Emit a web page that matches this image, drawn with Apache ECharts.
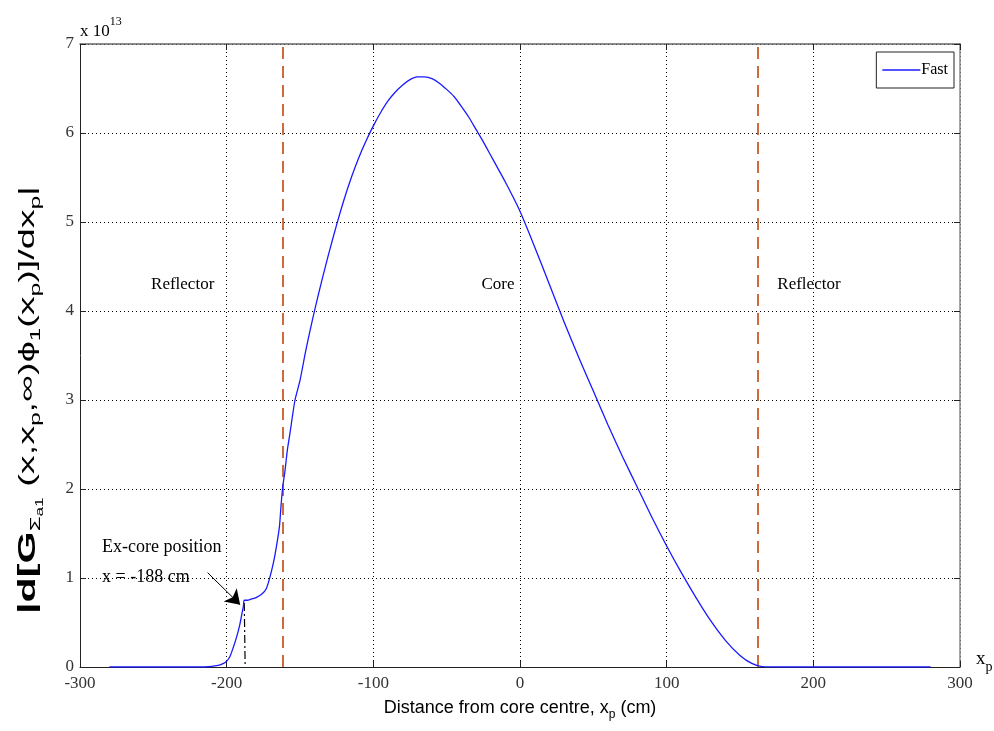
<!DOCTYPE html>
<html>
<head>
<meta charset="utf-8">
<script src="https://cdn.jsdelivr.net/npm/echarts@6/dist/echarts.min.js"></script>
<style>
html,body{margin:0;padding:0;background:#fff}
#chart{width:994px;height:731px}
</style>
</head>
<body>
<div id="chart"></div>
<script>
// Axis ticks
const xTicks = [-300, -200, -100, 0, 100, 200, 300];
const yTicks = [0, 1, 2, 3, 4, 5, 6, 7];

// Fast-group gradient |d[G(x,xp,w) phi1(xp)]/dxp| in units of 1e13, versus xp (cm)
const positionCm = [
  -280, -260, -240, -220, -212, -208, -204, -201, -198, -195.5, -193, -191, -189.6, -188.6, -188,
  -186, -183, -180, -176, -173, -170.5, -168, -166, -164, -163, -161.8, -160.2, -158.6, -156.8,
  -153.4, -150, -146, -143, -140, -135, -130, -125, -120, -115, -110, -105, -100, -95, -90, -85,
  -80, -75, -70, -65, -60, -55, -50, -45, -40, -35, -30, -25, -20, -15, -10, -5, 0, 10, 20, 30,
  40, 50, 60, 70, 80, 90, 100, 110, 120, 130, 140, 150, 158, 165, 180, 200, 220, 240, 260, 280
];
const fastGradient = [
  0, 0, 0, 0, 0.003, 0.012, 0.028, 0.05, 0.11, 0.22, 0.35, 0.48, 0.6, 0.68, 0.75,
  0.75, 0.765, 0.78, 0.82, 0.88, 1.01, 1.18, 1.36, 1.58, 1.8, 2.02, 2.21, 2.44, 2.63,
  3.0, 3.22, 3.56, 3.79, 4.01, 4.35, 4.67, 4.97, 5.25, 5.5, 5.72, 5.91, 6.08, 6.23, 6.36, 6.46,
  6.54, 6.6, 6.63, 6.63, 6.61, 6.56, 6.49, 6.41, 6.3, 6.18, 6.04, 5.9, 5.75, 5.6, 5.45, 5.29, 5.12, 4.72, 4.3, 3.88,
  3.48, 3.1, 2.72, 2.36, 2.02, 1.68, 1.36, 1.06, 0.78, 0.52, 0.3, 0.13, 0.04, 0.005, 0, 0, 0, 0, 0, 0
];

// Core / reflector interfaces (cm) and the ex-core detector position
const regionBoundaries = [-162, 162];
const exCorePosition = -188;

const regionLabels = [
  { text: 'Reflector', x: -230, y: 4.3 },
  { text: 'Core', x: -15, y: 4.3 },
  { text: 'Reflector', x: 197, y: 4.3 }
];

const serif = '"Liberation Serif", "Times New Roman", serif';
const sans = '"Liberation Sans", Arial, Helvetica, sans-serif';

const chart = echarts.init(document.getElementById('chart'));

const curve = positionCm.map((x, i) => [x, fastGradient[i]]);

const gridLine = { show: true, lineStyle: { color: '#000', width: 1, type: [1, 3] } };

chart.setOption({
  animation: false,
  backgroundColor: '#fff',
  grid: { left: 80, right: 34, top: 44, bottom: 64 },
  legend: {
    right: 40, top: 52,
    data: [{ name: 'Fast', icon: 'rect' }],
    orient: 'vertical',
    borderColor: '#222', borderWidth: 1,
    padding: [10, 6, 10, 6],
    itemWidth: 38, itemHeight: 1.5, itemGap: 4,
    textStyle: { fontFamily: serif, fontSize: 16, color: '#000', padding: [0, 0, 0, -4] }
  },
  xAxis: [{
    type: 'value', min: -300, max: 300, interval: 100,
    axisLine: { show: true, onZero: false, lineStyle: { color: '#222', width: 1 } },
    axisTick: { show: true, inside: true, length: 6, lineStyle: { color: '#222' } },
    axisLabel: { fontFamily: serif, fontSize: 17, color: '#333', margin: 8 },
    splitLine: gridLine
  }, {
    type: 'value', min: -300, max: 300, interval: 100, position: 'top',
    axisLine: { show: true, onZero: false, lineStyle: { color: '#666', width: 1.5 } },
    axisTick: { show: true, inside: true, length: 6, lineStyle: { color: '#222' } },
    axisLabel: { show: false }, splitLine: { show: false }
  }],
  yAxis: [{
    type: 'value', min: 0, max: 7, interval: 1,
    axisLine: { show: true, onZero: false, lineStyle: { color: '#222', width: 1 } },
    axisTick: { show: true, inside: true, length: 6, lineStyle: { color: '#222' } },
    axisLabel: { fontFamily: serif, fontSize: 17, color: '#333', margin: 6 },
    splitLine: gridLine
  }, {
    type: 'value', min: 0, max: 7, interval: 1, position: 'right',
    axisLine: { show: true, onZero: false, lineStyle: { color: '#888', width: 1.5 } },
    axisTick: { show: true, inside: true, length: 6, lineStyle: { color: '#222' } },
    axisLabel: { show: false }, splitLine: { show: false }
  }],
  series: [{
    name: 'Fast', type: 'line', data: curve, symbol: 'none', smooth: 0.25,
    lineStyle: { color: '#1a1aff', width: 1.3 }, itemStyle: { color: '#1a1aff' },
    z: 5,
    markLine: {
      silent: true, symbol: 'none', label: { show: false },
      lineStyle: { color: '#cd6b3d', width: 2, type: [12, 7] },
      data: regionBoundaries.map(v => ({ xAxis: v }))
    }
  }, {
    // dash-dot drop line under the ex-core position
    name: 'exCoreDrop', type: 'line', symbol: 'none',
    data: [[exCorePosition, 0.72], [exCorePosition + 0.6, 0]],
    lineStyle: { color: '#000', width: 1.2, type: [8, 3, 2, 3] }, z: 4
  }, {
    name: 'exCoreArrow', type: 'lines', coordinateSystem: 'cartesian2d',
    symbol: ['none', 'arrow'], symbolSize: [0, 14],
    lineStyle: { color: '#000', width: 1, opacity: 1 },
    data: [{ coords: [[-213, 1.06], [-190.8, 0.7]] }], z: 6
  }]
});

// Text placed in data coordinates
function px(x, y) { return chart.convertToPixel({ gridIndex: 0 }, [x, y]); }

const graphics = [];
regionLabels.forEach(r => {
  const p = px(r.x, r.y);
  graphics.push({ type: 'text', x: p[0], y: p[1],
    style: { text: r.text, font: '17px ' + serif, fill: '#000', textAlign: 'center', textVerticalAlign: 'middle' } });
});
const a1 = px(-285, 1.34), a2 = px(-285, 1.01);
graphics.push({ type: 'text', x: a1[0], y: a1[1],
  style: { text: 'Ex-core position', font: '18px ' + serif, fill: '#000', textAlign: 'left', textVerticalAlign: 'middle' } });
graphics.push({ type: 'text', x: a2[0], y: a2[1],
  style: { text: 'x = -188 cm', font: '18px ' + serif, fill: '#000', textAlign: 'left', textVerticalAlign: 'middle' } });

// Exponent above the y axis
const corner = px(-300, 7);
graphics.push({ type: 'text', x: corner[0], y: corner[1] - 4,
  style: { text: '{b|x 10}{e|13}', textAlign: 'left', textVerticalAlign: 'bottom',
    rich: { b: { fontFamily: serif, fontSize: 17, color: '#000', verticalAlign: 'bottom' },
            e: { fontFamily: serif, fontSize: 12, color: '#000', verticalAlign: 'top', padding: [0, 0, 12, 0] } } } });

// x_p at the end of the x axis
const xe = px(300, 0);
graphics.push({ type: 'text', x: xe[0] + 16, y: xe[1] - 8,
  style: { text: '{b|x}{s|p}', textAlign: 'left', textVerticalAlign: 'middle',
    rich: { b: { fontFamily: serif, fontSize: 19, color: '#000' },
            s: { fontFamily: serif, fontSize: 14, color: '#000', padding: [16, 0, 0, 0] } } } });

// Axis titles
const xc = px(0, 0);
graphics.push({ type: 'text', x: xc[0], y: 708,
  style: { text: '{b|Distance from core centre, x}{s|p}{b| (cm)}', textAlign: 'center', textVerticalAlign: 'middle',
    rich: { b: { fontFamily: sans, fontSize: 18, color: '#000' },
            s: { fontFamily: sans, fontSize: 12, color: '#000', padding: [14, 0, 0, 0] } } } });

// y title is drawn stretched along its run, as in the original rendering
graphics.push({ type: 'text', x: 28, y: 400, rotation: Math.PI / 2, scaleX: 1.72, scaleY: 1,
  style: { text: '{bb||d[G}{s|Σ}{ss|a1}{b| (x,x}{s|p}{b|,∞)ϕ}{s|1}{b|(x}{s|p}{b|)]/dx}{s|p}{b||}',
    textAlign: 'center', textVerticalAlign: 'middle',
    rich: { bb: { fontFamily: sans, fontSize: 24, fontWeight: 'bold', color: '#000' },
            b: { fontFamily: sans, fontSize: 22, color: '#000' },
            s: { fontFamily: sans, fontSize: 14, color: '#000', padding: [16, 0, 0, 0] },
            ss: { fontFamily: sans, fontSize: 10, color: '#000', padding: [25, 0, 0, 0] } } } });

chart.setOption({ graphic: graphics });
</script>
</body>
</html>
